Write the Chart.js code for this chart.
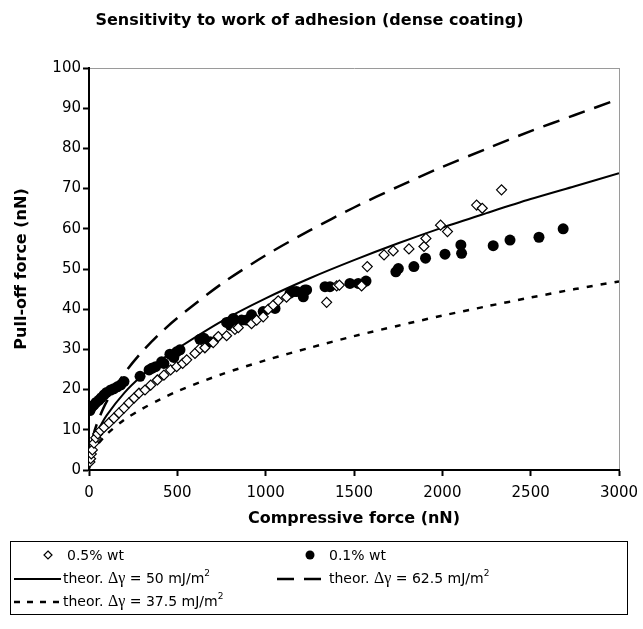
<!DOCTYPE html>
<html>
<head>
<meta charset="utf-8">
<script src="https://cdn.jsdelivr.net/npm/chart.js@4.4.0/dist/chart.umd.min.js"></script>
<style>
  html, body { margin: 0; padding: 0; background: #fff; }
  #wrap { position: relative; width: 643px; height: 629px; }
  #legend {
    position: absolute; left: 10px; top: 541px; width: 616px; height: 72px;
    border: 1px solid #000; font-family: "DejaVu Sans", Verdana, sans-serif;
    font-size: 14px; color: #000;
  }
  .item { position: absolute; white-space: nowrap; height: 20px; line-height: 20px; }
  .item svg { position: absolute; top: 0; }
  .item span { position: absolute; top: 0; }
  .sym { font-family: "Liberation Serif", serif; font-size: 16px; }
  sup { font-size: 9px; vertical-align: 7px; line-height: 0; }
</style>
</head>
<body>
<div id="wrap">
  <canvas id="chart" width="643" height="629"></canvas>
  <div id="legend">
    <div class="item" style="left:0; top:3px;">
      <svg width="60" height="20"><path d="M37 6 L41 10 L37 14 L33 10 Z" fill="#fff" stroke="#000" stroke-width="1.2"/></svg>
      <span style="left:56px;">0.5% wt</span>
    </div>
    <div class="item" style="left:262px; top:3px;">
      <svg width="60" height="20"><circle cx="37" cy="10" r="4.5" fill="#000"/></svg>
      <span style="left:56px;">0.1% wt</span>
    </div>
    <div class="item" style="left:0; top:26px;">
      <svg width="52" height="20"><line x1="3" y1="11" x2="50" y2="11" stroke="#000" stroke-width="2"/></svg>
      <span style="left:52px;">theor. <span class="sym" style="position:static">&Delta;&gamma;</span> = 50 mJ/m<sup>2</sup></span>
    </div>
    <div class="item" style="left:262px; top:26px;">
      <svg width="56" height="20"><line x1="4" y1="11" x2="50" y2="11" stroke="#000" stroke-width="2.5" stroke-dasharray="17 10"/></svg>
      <span style="left:56px;">theor. <span class="sym" style="position:static">&Delta;&gamma;</span> = 62.5 mJ/m<sup>2</sup></span>
    </div>
    <div class="item" style="left:0; top:49px;">
      <svg width="52" height="20"><line x1="3" y1="11" x2="50" y2="11" stroke="#000" stroke-width="2.5" stroke-dasharray="6 7"/></svg>
      <span style="left:52px;">theor. <span class="sym" style="position:static">&Delta;&gamma;</span> = 37.5 mJ/m<sup>2</sup></span>
    </div>
  </div>
</div>
<script>
// axis ticks
var xTicks = [0, 500, 1000, 1500, 2000, 2500, 3000];
var yTicks = [0, 10, 20, 30, 40, 50, 60, 70, 80, 90, 100];

// 0.5% wt (open diamonds): compressive force (nN) / pull-off force (nN)
var wt05Force = [5, 9, 13, 19, 28, 38, 50, 65, 85, 113, 141, 170, 198, 226, 255, 283, 317, 349, 387, 424, 462,
  496, 530, 553, 600, 628, 656, 703, 732, 779, 826, 845, 920, 949, 986, 1015, 1043, 1071, 1118,
  1345, 1402, 1417, 1543, 1575, 1670, 1722, 1811, 1896, 1907, 1990, 2029, 2194, 2226, 2335];
var wt05Pull = [2, 2.8, 4, 5, 6.7, 8, 9, 9.8, 10.6, 11.7, 12.9, 14.2, 15.4, 16.7, 17.9, 19.1, 19.9, 21.1, 22.4, 23.6, 24.9,
  25.7, 26.5, 27.4, 29, 30.2, 30.4, 31.7, 33.2, 33.4, 35, 35.4, 36.4, 37.3, 38.1, 40, 41, 42.1, 43,
  41.7, 45.8, 46, 45.8, 50.6, 53.5, 54.5, 55, 55.6, 57.6, 60.9, 59.3, 65.9, 65.1, 69.7];

// 0.1% wt (filled circles)
var wt01Force = [5, 9, 18, 28, 40, 57, 70, 85, 100, 123, 140, 160, 180, 198, 289, 340, 355, 377, 411, 424, 458,
  480, 496, 515, 628, 650, 685, 779, 800, 817, 826, 864, 892, 920, 930, 986, 1053, 1138, 1156, 1175,
  1213, 1222, 1232, 1336, 1364, 1477, 1524, 1568, 1737, 1751, 1839, 1905, 2015, 2105, 2109, 2288,
  2383, 2547, 2684];
var wt01Pull = [14.8, 15.3, 15.8, 16.2, 16.8, 17.4, 18, 18.7, 19.3, 19.9, 20.2, 20.7, 21.2, 22, 23.3, 24.9, 25.3, 25.7, 26.9, 26.5, 28.8,
  28, 29.4, 29.9, 32.5, 32.8, 31.9, 36.7, 36, 37.7, 36.9, 37.3, 37.3, 38.6, 37.7, 39.4, 40.2, 44, 44.4, 44.4,
  43.1, 44.8, 44.8, 45.6, 45.6, 46.4, 46.4, 47, 49.3, 50.1, 50.6, 52.7, 53.7, 56, 53.9, 55.8,
  57.2, 57.9, 60];

// theoretical curves
var theorForce = [0, 25, 50, 100, 200, 300, 400, 500, 750, 1000, 1250, 1500, 1750, 2000, 2250, 2500, 2750, 3000];
var theor50 = [0.5, 6.9, 9.7, 13.6, 19.2, 23.5, 27.1, 30.2, 37.0, 42.7, 47.7, 52.2, 56.4, 60.3, 63.9, 67.4, 70.6, 73.8];
var theor625 = [0.6, 8.6, 12.1, 17.0, 24.0, 29.4, 33.9, 37.8, 46.3, 53.4, 59.6, 65.3, 70.5, 75.4, 79.9, 84.3, 88.3, 92.3];
var theor375 = [0.3, 4.6, 6.4, 8.9, 12.5, 15.2, 17.5, 19.6, 23.8, 27.3, 30.4, 33.3, 35.9, 38.4, 40.7, 42.9, 45.0, 46.9];

function pts(xs, ys) {
  return xs.map(function (x, i) { return { x: x, y: ys[i] }; });
}

var font = "'DejaVu Sans', Verdana, sans-serif";

var ctx = document.getElementById("chart").getContext("2d");

var myChart = new Chart(ctx, {
  type: "scatter",
  data: {
    datasets: [
      {
        label: "0.5% wt",
        data: pts(wt05Force, wt05Pull),
        pointStyle: "rectRot",
        pointRadius: 5,
        backgroundColor: "#fff",
        borderColor: "#000",
        borderWidth: 1.2,
        showLine: false,
      },
      {
        label: "0.1% wt",
        data: pts(wt01Force, wt01Pull),
        pointStyle: "circle",
        pointRadius: 5.5,
        backgroundColor: "#000",
        borderColor: "#000",
        borderWidth: 0,
        showLine: false,
      },
      {
        label: "theor. 50",
        data: pts(theorForce, theor50),
        showLine: true,
        pointRadius: 0,
        borderColor: "#000",
        borderWidth: 2,
        tension: 0.3,
      },
      {
        label: "theor. 62.5",
        data: pts(theorForce, theor625),
        showLine: true,
        pointRadius: 0,
        borderColor: "#000",
        borderWidth: 2.5,
        borderDash: [17, 10],
        tension: 0.3,
      },
      {
        label: "theor. 37.5",
        data: pts(theorForce, theor375),
        showLine: true,
        pointRadius: 0,
        borderColor: "#000",
        borderWidth: 2.5,
        borderDash: [6, 8],
        tension: 0.3,
      },
    ],
  },
  options: {
    responsive: false,
    animation: false,
    layout: { padding: { top: 0, left: 0, right: 24, bottom: 89 } },
    plugins: {
      legend: { display: false },
      tooltip: { enabled: false },
      title: {
        display: true,
        text: "Sensitivity to work of adhesion (dense coating)",
        color: "#000",
        font: { family: font, size: 16, weight: "bold", lineHeight: 1.2 },
        padding: { top: 11, bottom: 37.8 },
      },
    },
    scales: {
      x: {
        type: "linear",
        min: 0,
        max: 3000,
        afterBuildTicks: function (axis) {
          axis.ticks = xTicks.map(function (v) { return { value: v }; });
        },
        afterFit: function (axis) {
          axis.height = 70;
          axis.paddingRight = 0;
          axis.paddingLeft = 0;
        },
        border: { color: "#000", width: 2 },
        grid: {
          drawOnChartArea: true,
          color: function (c) { return c.tick && c.tick.value === 3000 ? "#9a9a9a" : "rgba(0,0,0,0)"; },
          lineWidth: 1,
          tickColor: "#000",
          tickWidth: 2,
          tickLength: 6,
        },
        ticks: {
          color: "#000",
          font: { family: font, size: 15 },
          padding: 8,
          maxRotation: 0,
          callback: function (v) { return String(v); },
        },
        title: {
          display: true,
          text: "Compressive force (nN)",
          color: "#000",
          font: { family: font, size: 16, weight: "bold", lineHeight: 1.2 },
          padding: { top: 0, bottom: 11.4 },
        },
      },
      y: {
        type: "linear",
        min: 0,
        max: 100,
        afterBuildTicks: function (axis) {
          axis.ticks = yTicks.map(function (v) { return { value: v }; });
        },
        afterFit: function (axis) { axis.width = 89; },
        border: { color: "#000", width: 2 },
        grid: {
          drawOnChartArea: true,
          color: function (c) { return c.tick && c.tick.value === 100 ? "#9a9a9a" : "rgba(0,0,0,0)"; },
          lineWidth: 1,
          tickColor: "#000",
          tickWidth: 2,
          tickLength: 6,
        },
        ticks: {
          color: "#000",
          font: { family: font, size: 15 },
          padding: 2,
          callback: function (v) { return String(v); },
        },
        title: {
          display: true,
          text: "Pull-off force (nN)",
          color: "#000",
          font: { family: font, size: 16, weight: "bold", lineHeight: 1.2 },
          padding: { top: 12.4, bottom: 0 },
        },
      },
    },
  },
});
</script>
</body>
</html>
